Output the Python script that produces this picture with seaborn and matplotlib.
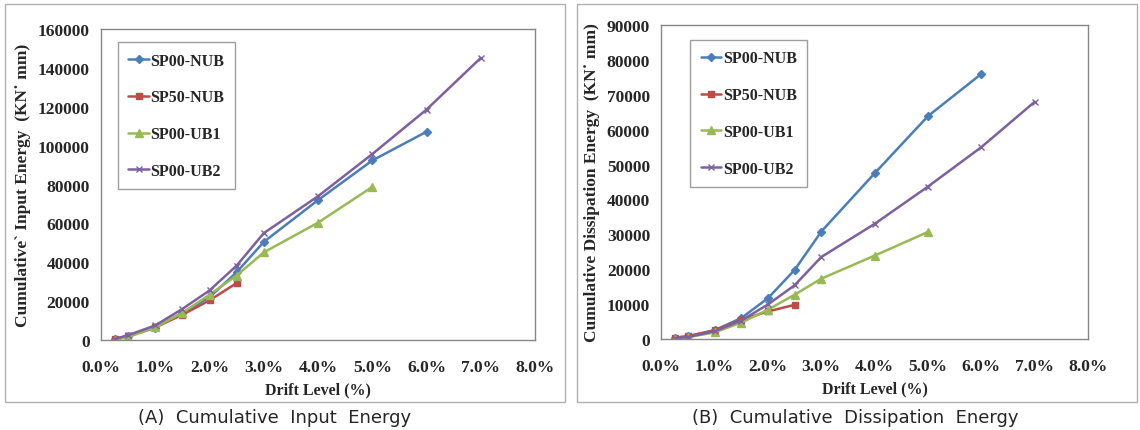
"""Cumulative input / dissipation energy vs drift level, two panels side by side."""
import matplotlib
matplotlib.use("Agg")
import matplotlib.pyplot as plt
import matplotlib.ticker as mticker
from matplotlib.patches import Rectangle
import pandas as pd
import seaborn as sns

sns.set_theme(style="white")
plt.rcParams["font.family"] = ["Liberation Serif", "DejaVu Serif"]

# drift levels (%) for each specimen
DRIFT = [0.25, 0.5, 1.0, 1.5, 2.0, 2.5, 3.0, 4.0, 5.0, 6.0, 7.0]
SERIES = ["SP00-NUB", "SP50-NUB", "SP00-UB1", "SP00-UB2"]

# cumulative input energy (kN*mm)
input_nub = [500, 2000, 6300, 14000, 22000, 34900, 50500, 72000, 92400, 107200]
input_sp50 = [500, 2000, 6500, 13000, 20400, 29300]
input_ub1 = [0, 1500, 6500, 14000, 23300, 33200, 45100, 60400, 78800]
input_ub2 = [500, 2500, 7500, 16000, 25500, 38300, 55000, 74000, 95700, 118600, 145200]

# cumulative dissipation energy (kN*mm)
diss_nub = [300, 800, 2500, 6000, 11700, 19800, 30800, 47500, 63900, 76000]
diss_sp50 = [400, 800, 2500, 5500, 7900, 9800]
diss_ub1 = [0, 500, 1900, 4700, 8400, 12700, 17300, 23900, 30700]
diss_ub2 = [200, 600, 2200, 5300, 9900, 15400, 23500, 33000, 43700, 55000, 68000]

COLORS = {"SP00-NUB": "#4A7EBB", "SP50-NUB": "#BE4B48",
          "SP00-UB1": "#98B954", "SP00-UB2": "#7D60A0"}
MARKERS = {"SP00-NUB": "D", "SP50-NUB": "s", "SP00-UB1": "^", "SP00-UB2": "x"}
MSIZE = {"SP00-NUB": 4, "SP50-NUB": 5, "SP00-UB1": 5.5, "SP00-UB2": 5}


def long_form(values):
    rows = []
    for name, ys in zip(SERIES, values):
        for x, y in zip(DRIFT, ys):
            rows.append({"drift": x, "energy": y, "specimen": name})
    return pd.DataFrame(rows)


def draw(ax, df, ymax, ystep, ylabel, legend_pos):
    for name in SERIES:
        sub = df[df["specimen"] == name]
        sns.lineplot(data=sub, x="drift", y="energy", ax=ax, color=COLORS[name],
                     marker=MARKERS[name], markersize=MSIZE[name], linewidth=1.8,
                     markeredgecolor=COLORS[name], markeredgewidth=1.0,
                     label=name, sort=False, estimator=None)
    ax.set_xlim(0, 8)
    ax.set_ylim(0, ymax)
    ax.xaxis.set_major_locator(mticker.MultipleLocator(1))
    ax.xaxis.set_major_formatter(mticker.FuncFormatter(lambda v, p: f"{v:.1f}%"))
    ax.yaxis.set_major_locator(mticker.MultipleLocator(ystep))
    ax.yaxis.set_major_formatter(mticker.FuncFormatter(lambda v, p: f"{int(v)}"))
    ax.tick_params(direction="in", length=4, color="#868686", labelsize=12.5, pad=8)
    for lab in ax.get_xticklabels() + ax.get_yticklabels():
        lab.set_fontweight("bold")
    ax.tick_params(axis="x", pad=14)
    for sp in ax.spines.values():
        sp.set_color("#868686")
        sp.set_linewidth(1.0)
    ax.set_xlabel("Drift Level (%)", fontsize=11.5, fontweight="bold", labelpad=4)
    ax.set_ylabel(ylabel, fontsize=12.5, fontweight="bold", labelpad=5)
    leg = ax.legend(loc="upper left", bbox_to_anchor=legend_pos, frameon=True,
                    fancybox=False, edgecolor="#868686", handlelength=1.3,
                    handletextpad=0.1, labelspacing=1.3, borderpad=0.65,
                    borderaxespad=0, prop={"weight": "bold", "size": 11.5})
    leg.get_frame().set_linewidth(1.0)


fig = plt.figure(figsize=(11.4, 4.31), dpi=100)
fig.patch.set_facecolor("white")

# panel frames
for x0, w in [(0.0044, 0.4912), (0.506, 0.4915)]:
    fig.patches.append(Rectangle((x0, 0.065), w, 0.923, transform=fig.transFigure,
                                 fill=False, edgecolor="#B0B0B0", linewidth=1.0))

ax1 = fig.add_axes([0.0886, 0.2088, 0.3807, 0.7212])
ax2 = fig.add_axes([0.5800, 0.2111, 0.3745, 0.7286])

draw(ax1, long_form([input_nub, input_sp50, input_ub1, input_ub2]), 160000, 20000,
     "Cumulative` Input Energy  (KN˙ mm)", (0.039, 0.958))
draw(ax2, long_form([diss_nub, diss_sp50, diss_ub1, diss_ub2]), 90000, 10000,
     "Cumulative Dissipation Energy  (KN˙ mm)", (0.068, 0.952))

fig.text(0.241, 0.03, "(A)  Cumulative  Input  Energy", ha="center", va="center",
         fontsize=13, family=["DejaVu Sans"])
fig.text(0.750, 0.03, "(B)  Cumulative  Dissipation  Energy", ha="center", va="center",
         fontsize=13, family=["DejaVu Sans"])

fig.savefig("out.png", dpi=100, facecolor="white")
